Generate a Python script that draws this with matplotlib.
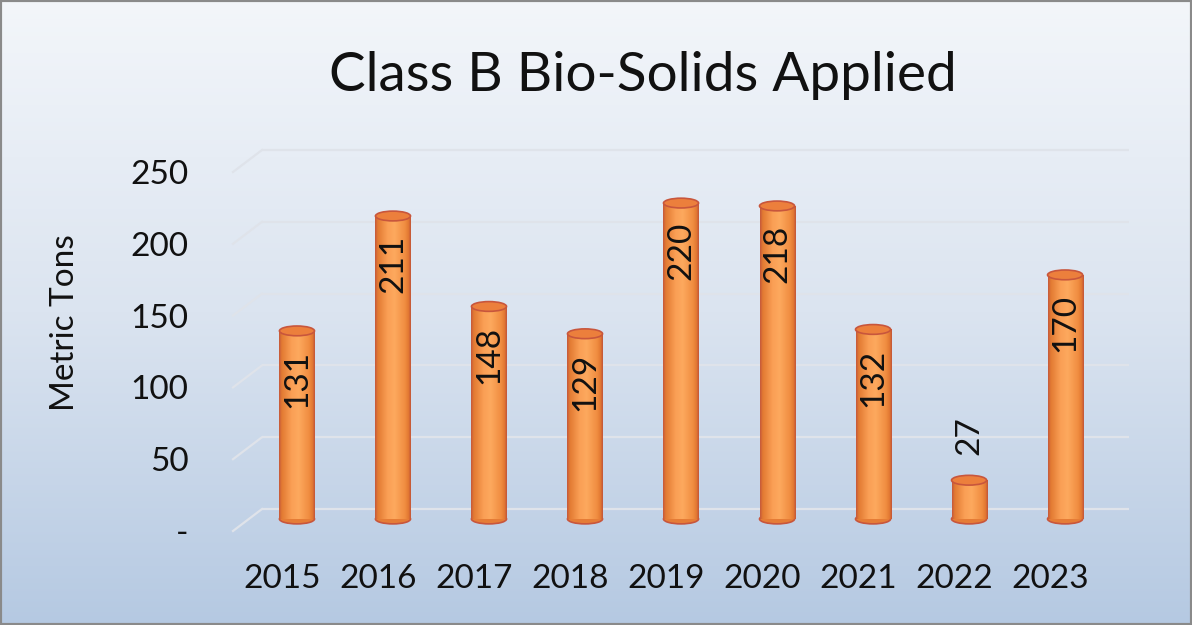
import matplotlib

matplotlib.use("Agg")
import matplotlib.pyplot as plt
import matplotlib.transforms as mtransforms
import numpy as np
from matplotlib.colors import LinearSegmentedColormap
from matplotlib.patches import Ellipse, Rectangle


YEARS: list[str] = ["2015", "2016", "2017", "2018", "2019", "2020", "2021", "2022", "2023"]
TONS: list[int] = [131, 211, 148, 129, 220, 218, 132, 27, 170]
Y_TICKS: list[int] = [0, 50, 100, 150, 200, 250]
Y_TICK_LABELS: list[str] = ["-", "50", "100", "150", "200", "250"]

TITLE = "Class B Bio-Solids Applied"
Y_LABEL = "Metric Tons"

FONT = ["Lato", "DejaVu Sans"]
TEXT_COLOR = "#111111"
GRID_COLOR = "#dfe3ea"

# fake 3d depth, in pixels (figure dpi is 100)
BAR_SHIFT = (15, 12)
WALL_SHIFT = (29, 22)
BAR_WIDTH = 0.365
CAP_H = 6.8


def shift(fig, dx_px, dy_px):
    return mtransforms.ScaledTranslation(dx_px / 100, dy_px / 100, fig.dpi_scale_trans)


def draw_background(fig):
    bg = fig.add_axes([0, 0, 1, 1], zorder=-10)
    cmap = LinearSegmentedColormap.from_list(
        "bg", ["#f3f6fa", "#dbe4f0", "#b5c9e2"]
    )
    grad = np.linspace(0, 1, 256).reshape(-1, 1)
    bg.imshow(grad, cmap=cmap, aspect="auto", extent=(0, 1, 0, 1), interpolation="bilinear")
    bg.set_axis_off()
    fig.patches.append(
        Rectangle((0, 0), 1, 1, transform=fig.transFigure, fill=False,
                  edgecolor="#8a8a8a", linewidth=3)
    )


def draw_grid(fig, ax):
    back = ax.get_yaxis_transform() + shift(fig, *WALL_SHIFT)
    fig.canvas.draw()
    for v in Y_TICKS:
        ax.plot([0, 1], [v, v], transform=back, color=GRID_COLOR, lw=1.6, zorder=1,
                solid_capstyle="butt", clip_on=False)
        x0, y0 = ax.get_yaxis_transform().transform((0, v))
        x1, y1 = back.transform((0, v))
        ax.plot([x0, x1], [y0, y1], transform=mtransforms.IdentityTransform(),
                color=GRID_COLOR, lw=1.6, zorder=1, clip_on=False)


def draw_cylinders(fig, ax):
    tr = ax.transData + shift(fig, *BAR_SHIFT)
    body_cmap = LinearSegmentedColormap.from_list(
        "body",
        [(0.0, "#c65a3a"), (0.07, "#e27a32"), (0.35, "#fa9f55"), (0.55, "#fda95e"),
         (0.85, "#f08c40"), (0.94, "#e27832"), (1.0, "#c45738")],
    )
    grad = np.linspace(0, 1, 64).reshape(1, -1)
    positions = np.arange(len(TONS))
    bars = ax.bar(positions, TONS, width=BAR_WIDTH, color="#f79646", linewidth=0,
                  transform=tr, zorder=3)
    for x, v, bar in zip(positions, TONS, bars):
        ax.add_patch(Ellipse((x, 0), BAR_WIDTH, CAP_H, transform=tr, facecolor="#e57c36",
                             edgecolor="#c8563c", lw=1.2, zorder=2))
        im = ax.imshow(grad, cmap=body_cmap, aspect="auto", interpolation="bilinear",
                       extent=(x - BAR_WIDTH / 2, x + BAR_WIDTH / 2, 0, v),
                       transform=tr, zorder=3)
        im.set_clip_path(bar)
        ax.add_patch(Ellipse((x, v), BAR_WIDTH, CAP_H, transform=tr, facecolor="#ec7f3c",
                             edgecolor="#c8563c", lw=1.2, zorder=4))

        if v > 60:
            t = tr + shift(fig, 0, -19)
            va = "top"
        else:
            t = tr + shift(fig, 0, 25)
            va = "bottom"
        ax.text(x, v, str(v), rotation=90, ha="center", va=va, transform=t,
                fontsize=24, family=FONT, color=TEXT_COLOR, zorder=5)


def plot_bio_solids():
    fig = plt.figure(figsize=(11.92, 6.25), dpi=100)
    draw_background(fig)

    ax = fig.add_axes([233 / 1192, 1 - 531 / 625, 867 / 1192, 359 / 625])
    ax.set_facecolor("none")
    ax.set_xlim(-0.51, 8.52)
    ax.set_ylim(0, 250)
    for sp in ax.spines.values():
        sp.set_visible(False)

    ax.set_yticks(Y_TICKS, Y_TICK_LABELS)
    ax.set_xticks(np.arange(len(YEARS)), YEARS)
    ax.tick_params(axis="y", length=0, pad=32)
    ax.tick_params(axis="x", length=0, pad=24)
    for lab in ax.get_xticklabels() + ax.get_yticklabels():
        lab.set_fontfamily(FONT)
        lab.set_fontsize(24)
        lab.set_color(TEXT_COLOR)

    draw_grid(fig, ax)
    draw_cylinders(fig, ax)
    ax.set_xlim(-0.51, 8.52)
    ax.set_ylim(0, 250)

    fig.text(643 / 1192, 1 - 76 / 625, TITLE, ha="center", va="center",
             fontsize=39.5, family=FONT, color=TEXT_COLOR)
    fig.text(65 / 1192, 1 - 323 / 625, Y_LABEL, ha="center", va="center", rotation=90,
             fontsize=24, family=FONT, color=TEXT_COLOR)

    fig.savefig("out.png", dpi=100)


def main() -> None:
    plot_bio_solids()


if __name__ == "__main__":
    main()
